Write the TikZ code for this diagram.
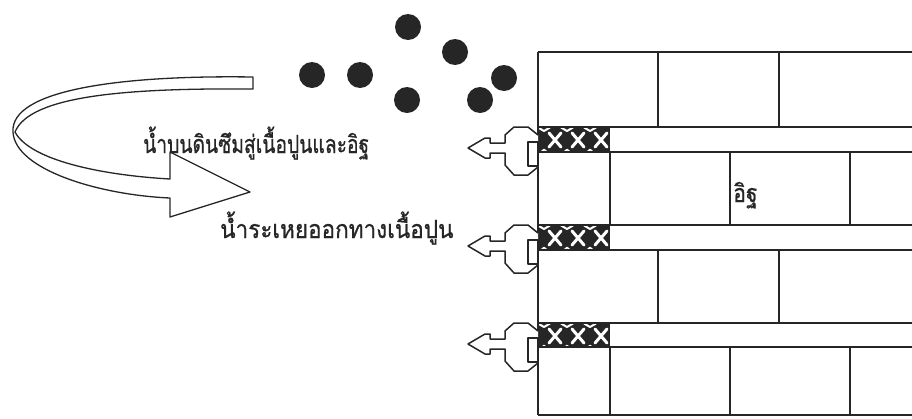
\documentclass[tikz,border=0pt]{standalone}
\usepackage{fontspec}
\newfontfamily\thaifont[Script=Thai,FakeBold=0.8]{Loma}
\begin{document}
\begin{tikzpicture}[x=1pt,y=-1pt,line join=round]
\useasboundingbox (0,0) rectangle (912,418);
\clip (0,0) rectangle (912,418);
\tikzset{
  wallline/.style={draw=black!85,line width=1.6pt},
  ribbon/.style={draw=black!85,line width=1.3pt,fill=white},
  drop/.style={fill=black!85},
  outlet/.style={draw=black!85,line width=1.5pt,fill=white},
  thaitext/.style={font=\thaifont\fontsize{25}{28}\selectfont,anchor=base west,inner sep=0pt,text=black!85},
  mortarfill/.style={fill=black!85},
  mortarstar/.style={draw=white,line width=3pt,line cap=round},
}

% --- mortar joints (hatched part next to the face) ---
\foreach \t in {127,225,323}{
  \begin{scope}[shift={(0,\t)}]
    \begin{scope}
      \clip (538,0) rectangle (610,25);
      \fill[mortarfill] (538,0) rectangle (610,25);
      \foreach \x in {555,578,601}
        \draw[mortarstar] (\x-6,6) -- (\x+6,20) (\x-6,20) -- (\x+6,6);
      \foreach \x in {544,567,590}{
        \draw[draw=white,line width=2pt] (\x-6,0.5) -- (\x,4) -- (\x+6,0.5);
        \draw[draw=white,line width=1.6pt] (\x-3,25) -- (\x,22.5) -- (\x+3,25);
      }
    \end{scope}
  \end{scope}
}

% --- brick wall ---
\foreach \y in {52,127,152,225,250,323,347,415}
  \draw[wallline] (538,\y) -- (912,\y);
\draw[wallline] (538,52) -- (538,415);
\foreach \x in {658,779}{
  \draw[wallline] (\x,52) -- (\x,127);
  \draw[wallline] (\x,250) -- (\x,323);
}
\foreach \x in {610,730,850}{
  \draw[wallline] (\x,152) -- (\x,225);
  \draw[wallline] (\x,347) -- (\x,415);
}

% --- water leaving through the mortar joints ---
\foreach \t in {127,225,323}{
  \begin{scope}[shift={(0,\t)}]
    \draw[outlet] (538,8) -- (528,0) -- (514,0) -- (505,8) -- (505,16) -- (490,16)
      -- (490,11) -- (485,11) -- (468,21) -- (485,31) -- (490,31) -- (490,26)
      -- (505,26) -- (505,38) -- (514,48) -- (528,48) -- (538,40);
    \draw[outlet] (528,15) rectangle (538,39);
  \end{scope}
}

% --- rain drops ---
\foreach \p in {(312,75),(360,75),(408,27),(455,52),(407,100),(480,100),(504,78)}
  \fill[drop] \p circle (13);

% --- curved ribbon arrow ---
\draw[ribbon] (253,77) .. controls (120,75) and (10,90) .. (13,132)
  .. controls (15,170) and (100,195) .. (170,198)
  -- (170,217) -- (250,192) -- (170,152) -- (170,179)
  .. controls (100,175) and (30,160) .. (15,132)
  .. controls (30,95) and (130,88) .. (253,89) -- cycle;

% --- labels ---
\node[thaitext] (seep) at (143,153) {\scalebox{0.77}[1]{น้ำบนดินซึมสู่เนื้อปูนและอิฐ}};
\node[thaitext] (evap) at (220,238) {\scalebox{0.9}[1]{น้ำระเหยออกทางเนื้อปูน}};
\node[thaitext] (brick) at (733,202) {\scalebox{0.85}[1]{อิฐ}};
\end{tikzpicture}
\end{document}
